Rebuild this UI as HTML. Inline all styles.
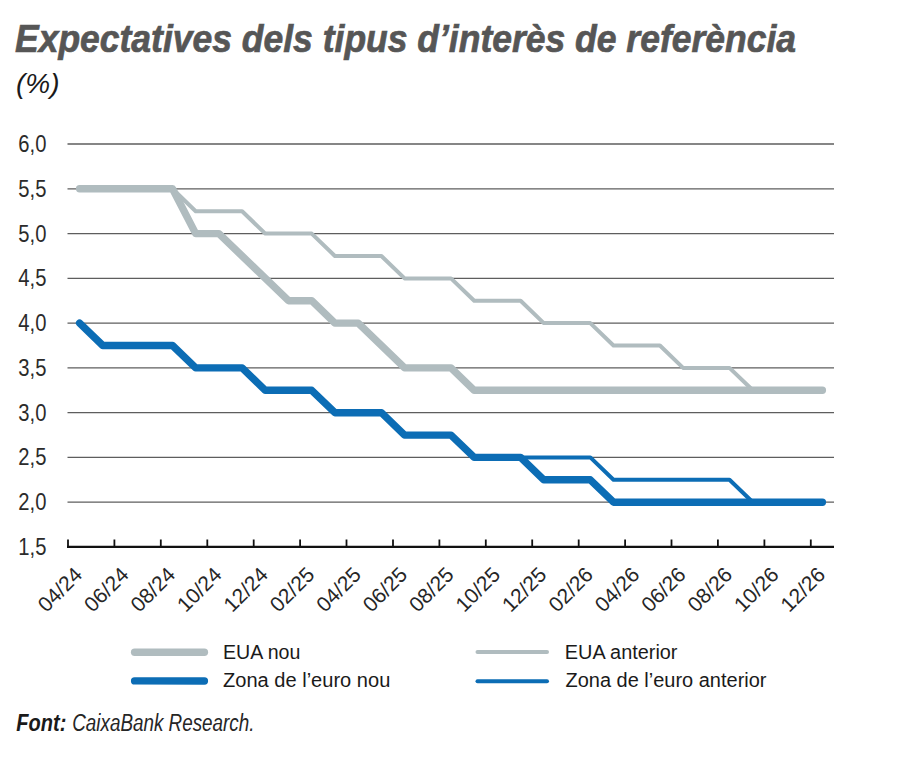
<!DOCTYPE html>
<html><head><meta charset="utf-8"><style>
html,body{margin:0;padding:0;background:#fff;width:900px;height:776px;overflow:hidden}
svg{display:block}
text{font-family:"Liberation Sans",sans-serif}
.t{font-weight:bold;font-style:italic;fill:#565656;stroke:#565656;stroke-width:0.7px;font-size:39px}
.pc{font-style:italic;fill:#1a1a1a;font-size:28px}
.yl{fill:#2b2b2b;font-size:23.5px}
.xl{fill:#262626;font-size:21px}
.lg{fill:#1a1a1a;font-size:19.6px}
.ft{font-style:italic;fill:#1a1a1a;font-size:23.5px}
</style></head><body>
<svg width="900" height="776" viewBox="0 0 900 776">
<text x="15" y="52" class="t" textLength="781" lengthAdjust="spacingAndGlyphs">Expectatives dels tipus d’interès de referència</text>
<text x="16" y="93" class="pc">(%)</text>
<line x1="67.5" y1="502.2" x2="834" y2="502.2" stroke="#5e5e5e" stroke-width="1.3"/>
<line x1="67.5" y1="457.4" x2="834" y2="457.4" stroke="#5e5e5e" stroke-width="1.3"/>
<line x1="67.5" y1="412.7" x2="834" y2="412.7" stroke="#5e5e5e" stroke-width="1.3"/>
<line x1="67.5" y1="367.9" x2="834" y2="367.9" stroke="#5e5e5e" stroke-width="1.3"/>
<line x1="67.5" y1="323.1" x2="834" y2="323.1" stroke="#5e5e5e" stroke-width="1.3"/>
<line x1="67.5" y1="278.4" x2="834" y2="278.4" stroke="#5e5e5e" stroke-width="1.3"/>
<line x1="67.5" y1="233.6" x2="834" y2="233.6" stroke="#5e5e5e" stroke-width="1.3"/>
<line x1="67.5" y1="188.8" x2="834" y2="188.8" stroke="#5e5e5e" stroke-width="1.3"/>
<line x1="67.5" y1="144.0" x2="834" y2="144.0" stroke="#5e5e5e" stroke-width="1.3"/>
<line x1="67" y1="546.8" x2="834" y2="546.8" stroke="#111" stroke-width="2.2"/>
<line x1="68.0" y1="539.5" x2="68.0" y2="547" stroke="#111" stroke-width="1.8"/>
<line x1="114.4" y1="539.5" x2="114.4" y2="547" stroke="#111" stroke-width="1.8"/>
<line x1="160.8" y1="539.5" x2="160.8" y2="547" stroke="#111" stroke-width="1.8"/>
<line x1="207.3" y1="539.5" x2="207.3" y2="547" stroke="#111" stroke-width="1.8"/>
<line x1="253.7" y1="539.5" x2="253.7" y2="547" stroke="#111" stroke-width="1.8"/>
<line x1="300.1" y1="539.5" x2="300.1" y2="547" stroke="#111" stroke-width="1.8"/>
<line x1="346.5" y1="539.5" x2="346.5" y2="547" stroke="#111" stroke-width="1.8"/>
<line x1="393.0" y1="539.5" x2="393.0" y2="547" stroke="#111" stroke-width="1.8"/>
<line x1="439.4" y1="539.5" x2="439.4" y2="547" stroke="#111" stroke-width="1.8"/>
<line x1="485.8" y1="539.5" x2="485.8" y2="547" stroke="#111" stroke-width="1.8"/>
<line x1="532.2" y1="539.5" x2="532.2" y2="547" stroke="#111" stroke-width="1.8"/>
<line x1="578.7" y1="539.5" x2="578.7" y2="547" stroke="#111" stroke-width="1.8"/>
<line x1="625.1" y1="539.5" x2="625.1" y2="547" stroke="#111" stroke-width="1.8"/>
<line x1="671.5" y1="539.5" x2="671.5" y2="547" stroke="#111" stroke-width="1.8"/>
<line x1="717.9" y1="539.5" x2="717.9" y2="547" stroke="#111" stroke-width="1.8"/>
<line x1="764.4" y1="539.5" x2="764.4" y2="547" stroke="#111" stroke-width="1.8"/>
<line x1="810.8" y1="539.5" x2="810.8" y2="547" stroke="#111" stroke-width="1.8"/>
<text x="0" y="0" text-anchor="end" class="yl" transform="translate(46.4 554.9) scale(0.86 1)">1,5</text>
<text x="0" y="0" text-anchor="end" class="yl" transform="translate(46.4 510.1) scale(0.86 1)">2,0</text>
<text x="0" y="0" text-anchor="end" class="yl" transform="translate(46.4 465.3) scale(0.86 1)">2,5</text>
<text x="0" y="0" text-anchor="end" class="yl" transform="translate(46.4 420.6) scale(0.86 1)">3,0</text>
<text x="0" y="0" text-anchor="end" class="yl" transform="translate(46.4 375.8) scale(0.86 1)">3,5</text>
<text x="0" y="0" text-anchor="end" class="yl" transform="translate(46.4 331.0) scale(0.86 1)">4,0</text>
<text x="0" y="0" text-anchor="end" class="yl" transform="translate(46.4 286.2) scale(0.86 1)">4,5</text>
<text x="0" y="0" text-anchor="end" class="yl" transform="translate(46.4 241.5) scale(0.86 1)">5,0</text>
<text x="0" y="0" text-anchor="end" class="yl" transform="translate(46.4 196.7) scale(0.86 1)">5,5</text>
<text x="0" y="0" text-anchor="end" class="yl" transform="translate(46.4 151.9) scale(0.86 1)">6,0</text>
<polyline points="79.6,188.8 172.5,188.8 195.7,233.6 218.9,233.6 288.5,300.7 311.7,300.7 334.9,323.1 358.2,323.1 404.6,367.9 451.0,367.9 474.2,390.3 822.4,390.3" fill="none" stroke="#b0bcbf" stroke-width="7.4" stroke-linejoin="round" stroke-linecap="round"/>
<polyline points="79.6,188.8 172.5,188.8 195.7,211.2 242.1,211.2 265.3,233.6 311.7,233.6 334.9,256.0 381.4,256.0 404.6,278.4 451.0,278.4 474.2,300.7 520.6,300.7 543.8,323.1 590.3,323.1 613.5,345.5 659.9,345.5 683.1,367.9 729.5,367.9 752.8,390.3 822.4,390.3" fill="none" stroke="#b0bcbf" stroke-width="4" stroke-linejoin="round" stroke-linecap="round"/>
<polyline points="79.6,323.1 102.8,345.5 172.5,345.5 195.7,367.9 242.1,367.9 265.3,390.3 311.7,390.3 334.9,412.7 381.4,412.7 404.6,435.1 451.0,435.1 474.2,457.4 520.6,457.4 543.8,479.8 590.3,479.8 613.5,502.2 822.4,502.2" fill="none" stroke="#0c6db5" stroke-width="7.4" stroke-linejoin="round" stroke-linecap="round"/>
<polyline points="79.6,323.1 102.8,345.5 172.5,345.5 195.7,367.9 242.1,367.9 265.3,390.3 311.7,390.3 334.9,412.7 381.4,412.7 404.6,435.1 451.0,435.1 474.2,457.4 590.3,457.4 613.5,479.8 729.5,479.8 752.8,502.2 822.4,502.2" fill="none" stroke="#0c6db5" stroke-width="4" stroke-linejoin="round" stroke-linecap="round"/>
<text x="83.6" y="576" text-anchor="end" class="xl" transform="rotate(-45 83.6 576)">04/24</text>
<text x="130.0" y="576" text-anchor="end" class="xl" transform="rotate(-45 130.0 576)">06/24</text>
<text x="176.5" y="576" text-anchor="end" class="xl" transform="rotate(-45 176.5 576)">08/24</text>
<text x="222.9" y="576" text-anchor="end" class="xl" transform="rotate(-45 222.9 576)">10/24</text>
<text x="269.3" y="576" text-anchor="end" class="xl" transform="rotate(-45 269.3 576)">12/24</text>
<text x="315.7" y="576" text-anchor="end" class="xl" transform="rotate(-45 315.7 576)">02/25</text>
<text x="362.2" y="576" text-anchor="end" class="xl" transform="rotate(-45 362.2 576)">04/25</text>
<text x="408.6" y="576" text-anchor="end" class="xl" transform="rotate(-45 408.6 576)">06/25</text>
<text x="455.0" y="576" text-anchor="end" class="xl" transform="rotate(-45 455.0 576)">08/25</text>
<text x="501.4" y="576" text-anchor="end" class="xl" transform="rotate(-45 501.4 576)">10/25</text>
<text x="547.8" y="576" text-anchor="end" class="xl" transform="rotate(-45 547.8 576)">12/25</text>
<text x="594.3" y="576" text-anchor="end" class="xl" transform="rotate(-45 594.3 576)">02/26</text>
<text x="640.7" y="576" text-anchor="end" class="xl" transform="rotate(-45 640.7 576)">04/26</text>
<text x="687.1" y="576" text-anchor="end" class="xl" transform="rotate(-45 687.1 576)">06/26</text>
<text x="733.5" y="576" text-anchor="end" class="xl" transform="rotate(-45 733.5 576)">08/26</text>
<text x="780.0" y="576" text-anchor="end" class="xl" transform="rotate(-45 780.0 576)">10/26</text>
<text x="826.4" y="576" text-anchor="end" class="xl" transform="rotate(-45 826.4 576)">12/26</text>
<line x1="134.6" y1="652.3" x2="204.4" y2="652.3" stroke="#b0bcbf" stroke-width="7.4" stroke-linecap="round"/>
<line x1="134.6" y1="680.9" x2="204.4" y2="681" stroke="#0c6db5" stroke-width="7.4" stroke-linecap="round"/>
<line x1="477.5" y1="652" x2="547" y2="652" stroke="#b0bcbf" stroke-width="4" stroke-linecap="round"/>
<line x1="477.5" y1="681.3" x2="547" y2="681.3" stroke="#0c6db5" stroke-width="4" stroke-linecap="round"/>
<text x="223" y="658.5" class="lg">EUA nou</text>
<text x="223" y="687" class="lg" textLength="167.3" lengthAdjust="spacingAndGlyphs">Zona de l’euro nou</text>
<text x="564.8" y="658.5" class="lg" textLength="112.7" lengthAdjust="spacingAndGlyphs">EUA anterior</text>
<text x="565.5" y="687" class="lg" textLength="201" lengthAdjust="spacingAndGlyphs">Zona de l’euro anterior</text>
<text x="16.3" y="731.3" class="ft" font-weight="bold" textLength="50" lengthAdjust="spacingAndGlyphs">Font:</text>
<text x="72.2" y="731.3" class="ft" style="fill:#262626" textLength="182.3" lengthAdjust="spacingAndGlyphs">CaixaBank Research.</text>
</svg>
</body></html>
